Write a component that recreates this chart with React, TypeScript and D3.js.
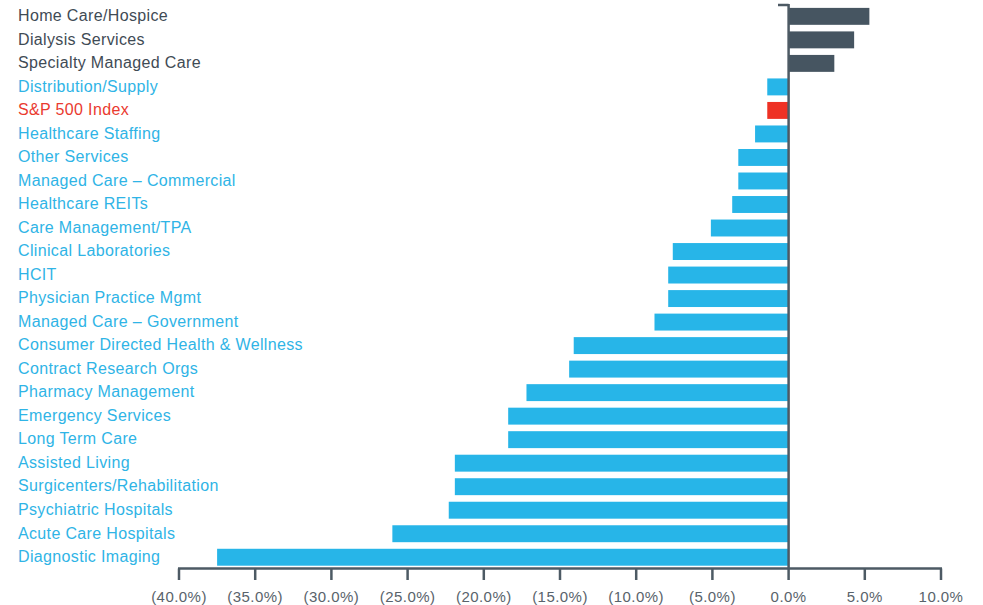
import React from "react";
import * as d3 from "d3";

const categories = [
  "Home Care/Hospice",
  "Dialysis Services",
  "Specialty Managed Care",
  "Distribution/Supply",
  "S&P 500 Index",
  "Healthcare Staffing",
  "Other Services",
  "Managed Care – Commercial",
  "Healthcare REITs",
  "Care Management/TPA",
  "Clinical Laboratories",
  "HCIT",
  "Physician Practice Mgmt",
  "Managed Care – Government",
  "Consumer Directed Health & Wellness",
  "Contract Research Orgs",
  "Pharmacy Management",
  "Emergency Services",
  "Long Term Care",
  "Assisted Living",
  "Surgicenters/Rehabilitation",
  "Psychiatric Hospitals",
  "Acute Care Hospitals",
  "Diagnostic Imaging",
];

const values = [
  5.3, 4.3, 3.0, -1.4, -1.4, -2.2, -3.3, -3.3, -3.7, -5.1, -7.6, -7.9, -7.9, -8.8,
  -14.1, -14.4, -17.2, -18.4, -18.4, -21.9, -21.9, -22.3, -26.0, -37.5,
];

const tickValues = [-40, -35, -30, -25, -20, -15, -10, -5, 0, 5, 10];
const tickLabels = [
  "(40.0%)", "(35.0%)", "(30.0%)", "(25.0%)", "(20.0%)", "(15.0%)",
  "(10.0%)", "(5.0%)", "0.0%", "5.0%", "10.0%",
];

const W = 983;
const H = 605;
const DARK = "#465561";
const BLUE = "#27b5e8";
const RED = "#ee3124";
const AXIS = "#4d5a64";

export default function App() {
  const x = d3.scaleLinear().domain([-40, 10]).range([179, 941]);
  const y = d3
    .scaleBand()
    .domain(categories)
    .range([4.6, 569])
    .paddingInner(0.28)
    .paddingOuter(0.14);

  const colorFor = (c: string, v: number) =>
    c === "S&P 500 Index" ? RED : v > 0 ? DARK : BLUE;
  const labelColor = (c: string, v: number) =>
    c === "S&P 500 Index" ? "#ea3a2f" : v > 0 ? "#3f4b55" : "#2fb4e6";

  const axisY = 568.5;
  const font = "'Liberation Sans', Arial, Helvetica, sans-serif";

  return (
    <svg
      width={W}
      height={H}
      style={{ position: "absolute", left: 0, top: 0, background: "#fff" }}
      fontFamily={font}
    >
      {categories.map((c, i) => {
        const v = values[i];
        const x0 = x(Math.min(0, v));
        const x1 = x(Math.max(0, v));
        return (
          <rect
            key={c}
            x={x0}
            y={y(c)}
            width={x1 - x0}
            height={y.bandwidth()}
            fill={colorFor(c, v)}
          />
        );
      })}
      {categories.map((c, i) => (
        <text
          key={"l" + c}
          x={18}
          y={(y(c) as number) + y.bandwidth() / 2}
          dy="0.3em"
          fontSize={16}
          letterSpacing={0.35}
          fill={labelColor(c, values[i])}
        >
          {c}
        </text>
      ))}
      {/* zero axis */}
      <line x1={x(0)} x2={x(0)} y1={4} y2={axisY} stroke={AXIS} strokeWidth={2.5} />
      <line x1={778} x2={x(0)} y1={5} y2={5} stroke={AXIS} strokeWidth={2.5} />
      {/* bottom axis */}
      <line x1={x(-40) - 1} x2={x(10) + 1} y1={axisY} y2={axisY} stroke={AXIS} strokeWidth={2.5} />
      {tickValues.map((t, i) => (
        <g key={"t" + t}>
          <line x1={x(t)} x2={x(t)} y1={axisY} y2={580} stroke={AXIS} strokeWidth={2.5} />
          <text
            x={x(t)}
            y={597}
            dy="0.35em"
            textAnchor="middle"
            fontSize={15}
            letterSpacing={0.45}
            fill="#59636b"
          >
            {tickLabels[i]}
          </text>
        </g>
      ))}
    </svg>
  );
}
